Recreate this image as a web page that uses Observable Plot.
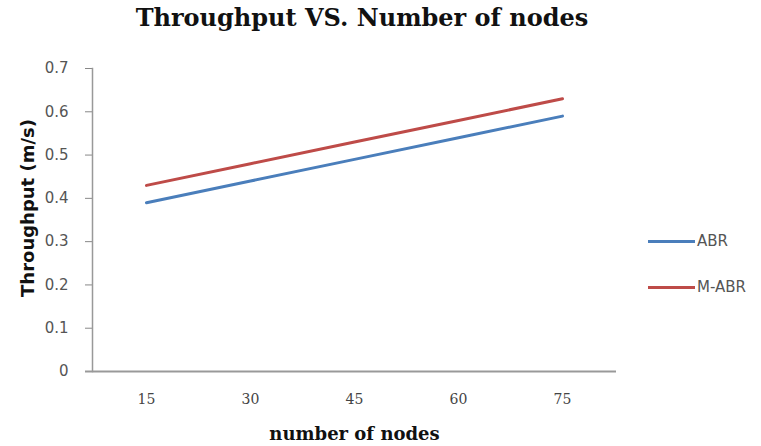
<!DOCTYPE html>
<html>
<head>
<meta charset="utf-8">
<script src="https://cdn.jsdelivr.net/npm/d3@7"></script>
<script src="https://cdn.jsdelivr.net/npm/@observablehq/plot@0.6"></script>
<style>
  html, body { margin: 0; padding: 0; background: #fff; }
  #wrap { position: relative; width: 761px; height: 446px; overflow: hidden; }
  #title { position: absolute; left: 0; top: 4px; width: 724px; text-align: center;
           font-family: "DejaVu Serif", serif; font-weight: bold; font-size: 24px; line-height: 28px; color: #111; }
  #chart { position: absolute; left: 0; top: 50px; }
  .legend { position: absolute; left: 648px; font-family: "DejaVu Sans", sans-serif; font-size: 15px; line-height: 18px; color: #555; display: flex; align-items: center; white-space: nowrap; }
  .legend span.sw { display: inline-block; width: 47px; height: 3px; margin-right: 2px; }
</style>
</head>
<body>
<div id="wrap">
  <div id="title">Throughput VS. Number of nodes</div>
  <div id="chart"></div>
  <div class="legend" style="top:232px"><span class="sw" style="background:#4a7ebb"></span>ABR</div>
  <div class="legend" style="top:278px"><span class="sw" style="background:#be4b48"></span>M-ABR</div>
</div>
<script>
const nodes = [15, 30, 45, 60, 75];
const abr = [0.39, 0.44, 0.49, 0.54, 0.59];
const mabr = [0.43, 0.48, 0.53, 0.58, 0.63];
const yTicks = [0, 0.1, 0.2, 0.3, 0.4, 0.5, 0.6, 0.7];

const data = [
  ...nodes.map((n, i) => ({n, v: abr[i], s: "ABR"})),
  ...nodes.map((n, i) => ({n, v: mabr[i], s: "M-ABR"}))
];

const plot = Plot.plot({
  width: 761,
  height: 396,
  marginTop: 18,
  marginBottom: 75,
  marginLeft: 92,
  marginRight: 145,
  x: {type: "point", domain: nodes, padding: 0.5, label: null},
  y: {domain: [0, 0.7], label: null},
  color: {domain: ["ABR", "M-ABR"], range: ["#4a7ebb", "#be4b48"]},
  style: {background: "#fff"},
  marks: [
    Plot.axisY({ticks: yTicks, tickSize: 7, tickPadding: 17, stroke: "#888", tickFormat: d => d3.format("")(d),
      fontFamily: "'DejaVu Sans', sans-serif", fontSize: 15, fill: "#555", label: null}),
    Plot.axisX({tickSize: 0, tickPadding: 23, fontFamily: "'DejaVu Serif', serif", fontSize: 14, fill: "#444", label: null}),
    Plot.frame({anchor: "left", stroke: "#999", strokeWidth: 1.5}),
    Plot.ruleY([0], {stroke: "#999", strokeWidth: 2, insetLeft: -7}),
    Plot.line(data, {x: "n", y: "v", z: "s", stroke: "s", strokeWidth: 3}),
    Plot.text(["number of nodes"], {frameAnchor: "bottom", dy: 68, fontFamily: "'DejaVu Serif', serif", fontWeight: "bold", fontSize: 18, fill: "#111"}),
    Plot.text(["Throughput (m/s)"], {frameAnchor: "left", textAnchor: "middle", dx: -64, dy: -12, rotate: -90, fontFamily: "'DejaVu Sans', sans-serif", fontWeight: "bold", fontSize: 18, fill: "#111"})
  ]
});
document.getElementById("chart").appendChild(plot);
</script>
</body>
</html>
